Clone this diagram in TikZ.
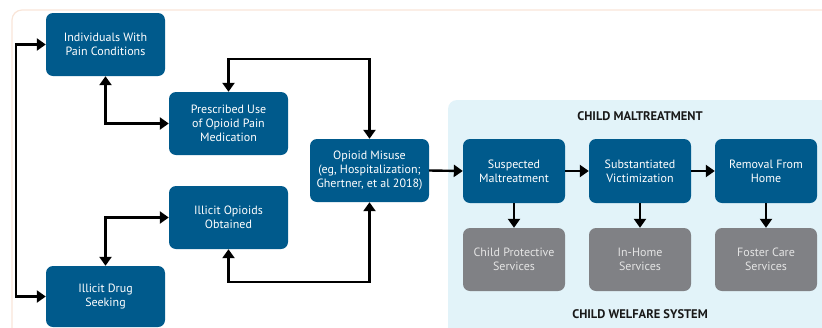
\documentclass[tikz,border=0pt]{standalone}
\usepackage{fontspec}
\setmainfont{PT Sans}
\usetikzlibrary{arrows.meta}
\definecolor{boxblue}{RGB}{0,90,140}
\definecolor{boxgray}{RGB}{128,129,133}
\definecolor{graytext}{RGB}{228,228,228}
\definecolor{panel}{RGB}{226,243,249}
\definecolor{frame}{RGB}{249,229,216}
\tikzset{
  bluebox/.style={draw=none, fill=boxblue, rounded corners=7pt, text=white, align=center,
    minimum width=119pt, minimum height=63pt, inner sep=0pt, font=\fontsize{12}{14.2}\selectfont},
  smallblue/.style={bluebox, minimum width=102pt, minimum height=64pt},
  graybox/.style={bluebox, fill=boxgray, text=graytext, minimum width=102pt, minimum height=63pt},
  conn/.style={line width=2.4pt, black, {Triangle[length=9pt,width=12pt]}-{Triangle[length=9pt,width=12pt]}},
  oneway/.style={line width=2.4pt, black, -{Triangle[length=9pt,width=12pt]}},
  title/.style={font=\fontsize{12.5}{14}\selectfont\bfseries, text=black!90}
}
\begin{document}
\begin{tikzpicture}[x=1pt,y=-1pt]
\useasboundingbox (0,0) rectangle (822,327);
\begin{scope}
\clip (0,0) rectangle (822,327);
\draw[frame, line width=1.2pt, rounded corners=10pt] (12,10) rectangle (850,360);
\fill[panel, rounded corners=9pt] (448,100) rectangle (850,360);
\end{scope}
\node[title] (t1) at (640,116) {CHILD MALTREATMENT};
\node[title] (t2) at (640,314) {CHILD WELFARE SYSTEM};

\node[bluebox] (ind) at (105.5,44.5) {Individuals With\\Pain Conditions};
\node[bluebox] (pres) at (228.5,123.5) {Prescribed Use\\of Opioid Pain\\Medication};
\node[bluebox] (illop) at (228.5,217.5) {Illicit Opioids\\Obtained};
\node[bluebox, minimum height=61pt] (seek) at (105.5,296.5) {Illicit Drug\\Seeking};
\node[bluebox] (mis) at (369.5,170.5) {Opioid Misuse\\(eg, Hospitalization;\\Ghertner, et al 2018)};
\node[smallblue] (sus) at (514,171) {Suspected\\Maltreatment};
\node[smallblue] (sub) at (640,171) {Substantiated\\Victimization};
\node[smallblue] (rem) at (766,171) {Removal From\\Home};
\node[graybox] (cps) at (514,259.5) {Child Protective\\Services};
\node[graybox] (inh) at (640,259.5) {In-Home\\Services};
\node[graybox] (fos) at (766,259.5) {Foster Care\\Services};

\coordinate (lft) at (16,0);
\draw[conn] (ind.west) -- (lft |- ind.west) -- (lft |- seek.west) -- (seek.west);
\draw[conn] (ind.south) |- (pres.west);
\draw[conn] (seek.north) |- (illop.west);
\coordinate (topy) at (0,59);
\coordinate (boty) at (0,282);
\draw[conn] (pres.north) -- (pres.north |- topy) -| (mis.north);
\draw[conn] (illop.south) -- (illop.south |- boty) -| (mis.south);
\draw[oneway] (mis.east) -- (sus.west);
\draw[oneway] (sus.east) -- (sub.west);
\draw[oneway] (sub.east) -- (rem.west);
\draw[oneway] (sus.south) -- (cps.north);
\draw[oneway] (sub.south) -- (inh.north);
\draw[oneway] (rem.south) -- (fos.north);
\end{tikzpicture}
\end{document}
